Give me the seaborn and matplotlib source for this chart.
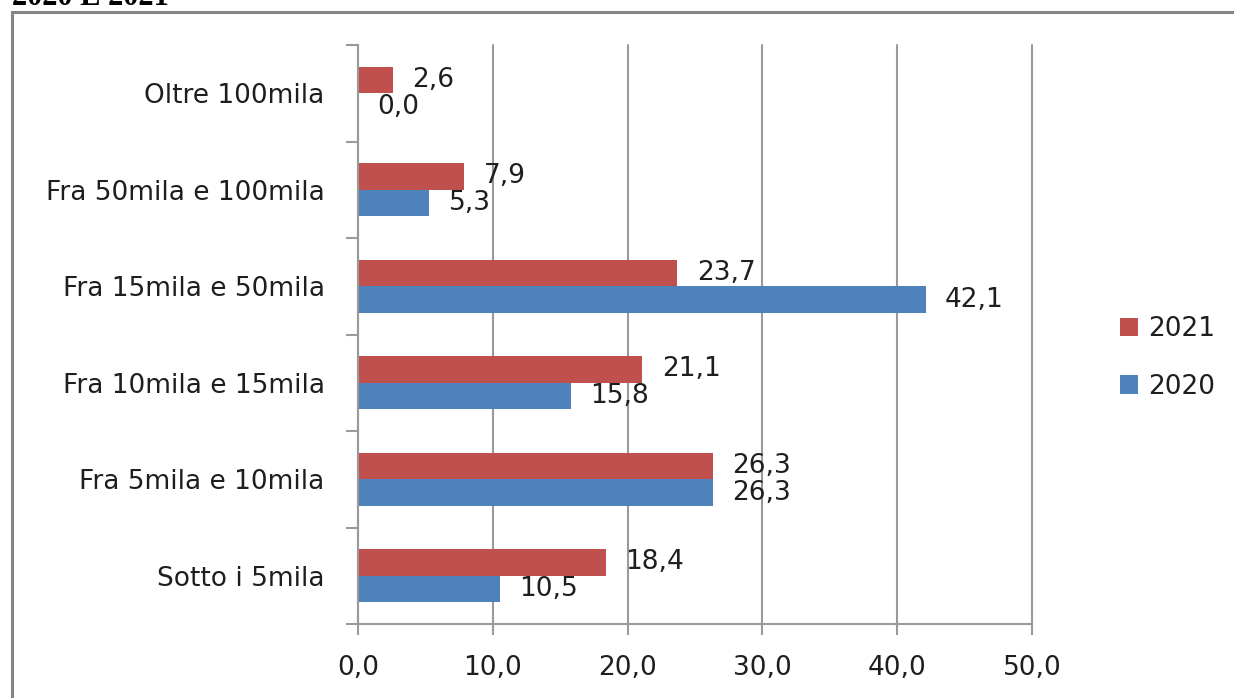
import matplotlib
matplotlib.use("Agg")
import matplotlib.pyplot as plt
from matplotlib.patches import Rectangle
from matplotlib.ticker import FuncFormatter, FixedLocator
import pandas as pd
import seaborn as sns

# Fasce di fatturato (dall'alto verso il basso)
categories = [
    "Oltre 100mila",
    "Fra 50mila e 100mila",
    "Fra 15mila e 50mila",
    "Fra 10mila e 15mila",
    "Fra 5mila e 10mila",
    "Sotto i 5mila",
]
values_2021 = [2.6, 7.9, 23.7, 21.1, 26.3, 18.4]
values_2020 = [0.0, 5.3, 42.1, 15.8, 26.3, 10.5]
years = ["2021", "2020"]
x_ticks = [0, 10, 20, 30, 40, 50]
title_text = "2020 E 2021"

colors = {"2021": "#C0504D", "2020": "#4F81BD"}
grey = "#9A9A9A"
text_color = "#1E1E1E"


def it_num(v, pos=None):
    return f"{v:.1f}".replace(".", ",")


df = pd.DataFrame({
    "fascia": categories * 2,
    "anno": ["2021"] * len(categories) + ["2020"] * len(categories),
    "valore": values_2021 + values_2020,
})

sns.set_theme(style="white")
plt.rcParams["font.family"] = ["DejaVu Sans"]

fig = plt.figure(figsize=(12.34, 6.98), dpi=100)
ax = fig.add_axes([358 / 1234, 1 - 624 / 698, (1032 - 358) / 1234, (624 - 45) / 698])

sns.barplot(
    data=df, x="valore", y="fascia", hue="anno", order=categories,
    hue_order=years, palette=colors, orient="h", width=0.55,
    linewidth=0, saturation=1, ax=ax, legend=True,
)

# value labels next to each bar
for container, vals in zip(ax.containers, [values_2021, values_2020]):
    ax.bar_label(container, labels=[it_num(v) for v in vals], padding=14,
                 fontsize=19, color=text_color)

ax.set_xlim(0, 50)
ax.set_ylim(len(categories) - 0.5, -0.5)
ax.xaxis.set_major_locator(FixedLocator(x_ticks))
ax.xaxis.set_major_formatter(FuncFormatter(it_num))
ax.set_xlabel("")
ax.set_ylabel("")

ax.grid(axis="x", color=grey, linewidth=1.5)
ax.grid(axis="y", visible=False)
ax.set_axisbelow(True)
for gl in ax.get_xgridlines():
    gl.set_clip_on(False)

for side in ("top", "right"):
    ax.spines[side].set_visible(False)
for side in ("left", "bottom"):
    ax.spines[side].set_color(grey)
    ax.spines[side].set_linewidth(1.5)

ax.tick_params(axis="x", which="major", length=8, width=1.5, color=grey,
               direction="out", pad=14, labelsize=19, labelcolor=text_color,
               bottom=True)
ax.tick_params(axis="y", which="major", length=0, pad=24, labelsize=19,
               labelcolor=text_color)
ax.yaxis.set_minor_locator(FixedLocator([i - 0.5 for i in range(len(categories) + 1)]))
ax.tick_params(axis="y", which="minor", length=9, width=1.5, color=grey,
               direction="out", left=True)

handles, labels = ax.get_legend_handles_labels()
ax.legend(handles, labels, loc="center left",
          bbox_to_anchor=(1120 / 1234, 1 - 358 / 698),
          bbox_transform=fig.transFigure, frameon=False, fontsize=19,
          handlelength=0.7, handleheight=0.7, handletextpad=0.35,
          labelspacing=1.2, borderpad=0, borderaxespad=0,
          labelcolor=text_color)

# outer frame around the chart
frame_top = 1 - 12 / 698
fig.patches.append(Rectangle((12 / 1234, -0.2), 1.2, frame_top + 0.2,
                             transform=fig.transFigure, fill=False,
                             edgecolor="#858585", linewidth=2.2))
fig.text(12 / 1234, 1 - 5 / 698, title_text, ha="left", va="baseline",
         fontsize=22, fontweight="bold", family="Liberation Serif", color="#000000")

fig.savefig("out.png", dpi=100)
